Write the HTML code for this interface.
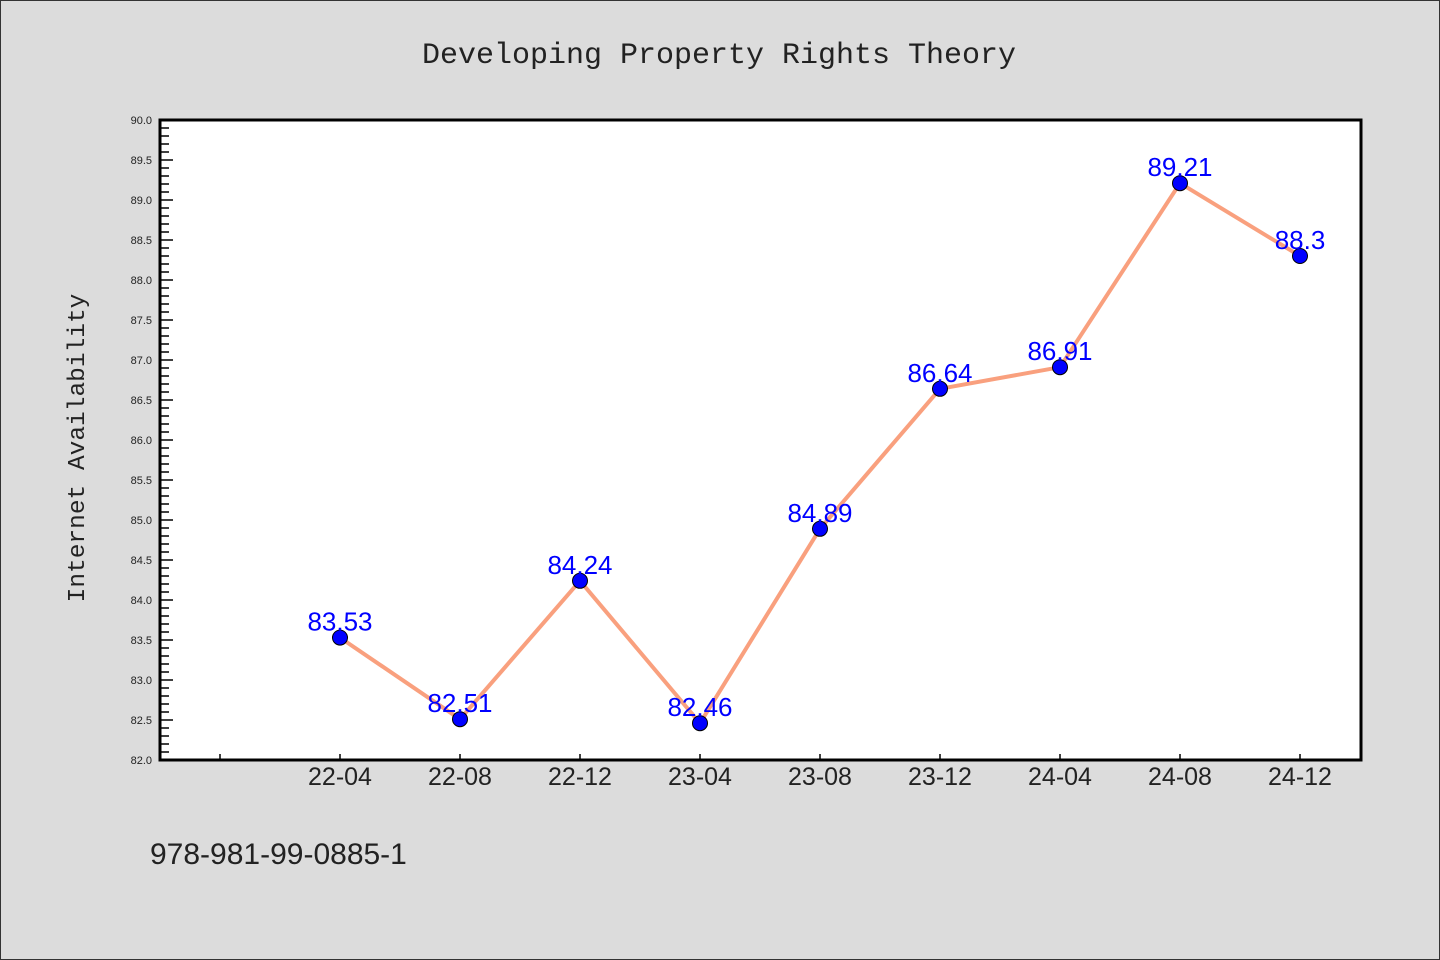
<!DOCTYPE html>
<html><head><meta charset="utf-8"><style>
html,body{margin:0;padding:0;background:#dcdcdc;}
svg{display:block;}
</style></head><body>
<svg id="chart" width="1440" height="960" xmlns="http://www.w3.org/2000/svg" font-family="Liberation Sans, DejaVu Sans, sans-serif">
<rect x="0.5" y="0.5" width="1439" height="959" fill="#dcdcdc" stroke="#333" stroke-width="1"/>
<text x="719" y="63" text-anchor="middle" font-family="Liberation Mono, DejaVu Sans Mono, monospace" font-size="30" fill="#222">Developing Property Rights Theory</text>
<rect x="160" y="120" width="1201" height="640" fill="#fff"/>
<g id="axes"></g>
<g id="series"></g>
<rect x="160" y="120" width="1201" height="640" fill="none" stroke="#000" stroke-width="3"/>
<text transform="translate(84,448) rotate(-90)" text-anchor="middle" font-family="Liberation Mono, DejaVu Sans Mono, monospace" font-size="24.5" fill="#222">Internet Availability</text>
<text x="150" y="864" font-size="30" fill="#222">978-981-99-0885-1</text>
</svg>
<script>
const categories = ["", "22-04","22-08","22-12","23-04","23-08","23-12","24-04","24-08","24-12"];
const values = [null, 83.53, 82.51, 84.24, 82.46, 84.89, 86.64, 86.91, 89.21, 88.3];
const labels = ["", "83.53","82.51","84.24","82.46","84.89","86.64","86.91","89.21","88.3"];
const yTicks = ["82.0","82.5","83.0","83.5","84.0","84.5","85.0","85.5","86.0","86.5","87.0","87.5","88.0","88.5","89.0","89.5","90.0"];
const NS="http://www.w3.org/2000/svg";
const L=160,R=1360,T=120,B=760,yMin=82,yMax=90;
const x=i=>L+(R-L)/categories.length*(i+0.5);
const y=v=>B-(v-yMin)/(yMax-yMin)*(B-T);
function mk(tag,attrs,parent){const e=document.createElementNS(NS,tag);for(const k in attrs)e.setAttribute(k,attrs[k]);parent.appendChild(e);return e;}
const ax=document.getElementById('axes');
// minor ticks
for(let k=0;k<=80;k++){const v=yMin+k*0.1;const major=k%5===0;
 const t=mk('line',{x1:L,x2:L+(major?13:9),y1:y(v),y2:y(v),stroke:'#000','stroke-width':1.5},ax);
 
 }
yTicks.forEach(s=>{const t=mk('text',{x:152,y:y(parseFloat(s))+4,'text-anchor':'end','font-size':11,fill:'#222'},ax);t.textContent=s;
 
 });
categories.forEach((c,i)=>{const t=mk('line',{x1:x(i),x2:x(i),y1:B,y2:B-6,stroke:'#000','stroke-width':1.5},ax);
 
 
 if(c){const l=mk('text',{x:x(i),y:785,'text-anchor':'middle','font-size':25,fill:'#222'},ax);l.textContent=c;
 
 }});
const sg=document.getElementById('series');
let d='';values.forEach((v,i)=>{if(v==null)return;d+=(d?'L':'M')+x(i)+','+y(v);});
const p=mk('path',{d:d,fill:'none',stroke:'#f9a07e','stroke-width':4,'stroke-linejoin':'round'},sg);


values.forEach((v,i)=>{if(v==null)return;
 const c=mk('circle',{cx:x(i),cy:y(v),r:7.5,fill:'#0000ff',stroke:'#000','stroke-width':1},sg);
 
 
 const t=mk('text',{x:x(i),y:y(v)-7,'text-anchor':'middle','font-size':26,fill:'#0000ff'},sg);t.textContent=labels[i];
 
 });
</script>
</body></html>
